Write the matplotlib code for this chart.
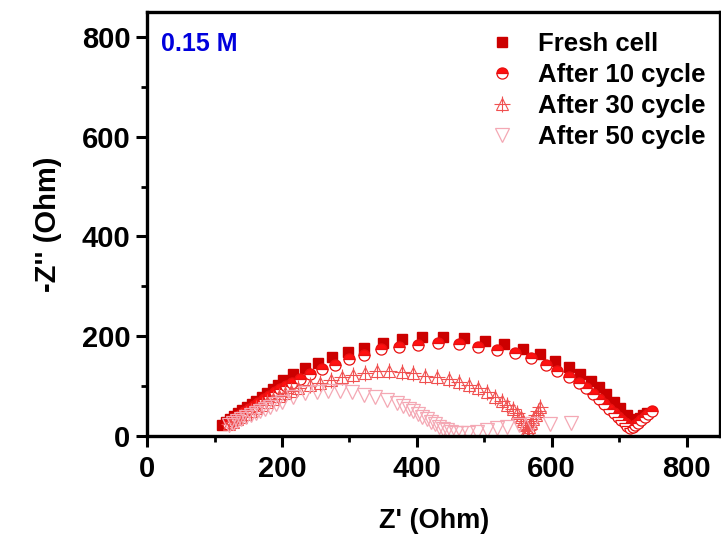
import matplotlib

matplotlib.use("Agg")
import matplotlib.pyplot as plt
from matplotlib.legend_handler import HandlerTuple
from matplotlib.ticker import MultipleLocator

plt.rcParams["font.family"] = ["Liberation Sans", "DejaVu Sans"]
plt.rcParams["font.weight"] = "bold"

# Nyquist data (Z' in Ohm, -Z'' in Ohm)
fresh_x = [111, 117, 123, 129, 135, 141, 148, 155, 162, 170, 178, 186, 194, 202,
           217, 234, 254, 274, 298, 322, 350, 378, 408, 439, 470, 501, 530, 557,
           582, 605, 625, 642, 658, 670, 681, 692, 702, 711, 716, 719, 722, 726,
           731, 736, 741]
fresh_y = [22, 28, 34, 40, 46, 52, 58, 64, 71, 78, 86, 94, 102, 112,
           124, 136, 147, 158, 168, 177, 187, 194, 198, 198, 196, 191, 184, 174,
           164, 151, 139, 124, 111, 98, 84, 69, 56, 42, 34, 26, 24, 28,
           36, 42, 47]

c10_x = [120, 126, 132, 138, 144, 151, 158, 165, 173, 181, 189, 197, 206, 215,
         227, 242, 259, 279, 300, 322, 347, 373, 402, 432, 462, 491, 519, 546,
         570, 591, 608, 626, 640, 651, 661, 670, 678, 685, 692, 698, 703, 708,
         712, 716, 720, 724, 728, 733, 738, 743, 749]
c10_y = [24, 30, 36, 42, 48, 54, 60, 67, 74, 81, 88, 95, 101, 106,
         115, 124, 134, 142, 154, 162, 174, 179, 182, 186, 184, 179, 172, 166,
         156, 142, 130, 118, 107, 96, 84, 74, 64, 55, 47, 39, 32, 26,
         20, 16, 18, 22, 27, 32, 38, 44, 50]

c30_x = [122, 128, 134, 140, 147, 154, 162, 170, 178, 187, 196, 205, 214, 224,
         241, 256, 272, 289, 306, 323, 341, 359, 378, 395, 412, 430, 447, 463,
         478, 491, 504, 516, 526, 534, 542, 549, 554, 558, 561, 563, 565, 567,
         570, 573, 576, 579, 583]
c30_y = [24, 29, 34, 39, 45, 50, 56, 62, 68, 74, 80, 86, 91, 96,
         102, 106, 112, 118, 122, 127, 130, 130, 129, 127, 120, 119, 114, 109,
         102, 96, 89, 79, 71, 62, 54, 46, 38, 30, 22, 15, 12, 18,
         26, 34, 42, 50, 58]

c50_x = [122, 128, 134, 140, 147, 154, 161, 168, 175, 182, 191, 200, 217, 234,
         252, 269, 286, 304, 321, 338, 356, 370, 380, 388, 395, 402, 408, 415,
         421, 427, 433, 439, 445, 451, 458, 466, 476, 489, 504, 519, 534, 551,
         571, 598, 628]
c50_y = [22, 26, 30, 34, 38, 42, 46, 50, 54, 59, 64, 69, 79, 86,
         89, 91, 91, 89, 82, 78, 72, 66, 60, 55, 50, 44, 39, 34,
         29, 24, 19, 15, 12, 9, 7, 6, 7, 9, 12, 16, 19, 22,
         24, 24, 26]

labels = ["Fresh cell", "After 10 cycle", "After 30 cycle", "After 50 cycle"]

fig = plt.figure(figsize=(7.21, 5.39), dpi=100)
ax = fig.add_axes([0.204, 0.191, 0.795, 0.787])

h_fresh, = ax.plot(fresh_x, fresh_y, ls="none", marker="s", ms=7.5,
                   color="#CC0000", mec="#CC0000")
h_10, = ax.plot(c10_x, c10_y, ls="none", marker="o", ms=8, color="#FF1010",
                mec="#E81010", mew=0.9, fillstyle="top", markerfacecoloralt="white")
h_30a, = ax.plot(c30_x, c30_y, ls="none", marker="^", ms=8.5, mfc="none",
                 mec="#F05050", mew=0.8)
h_30b, = ax.plot(c30_x, c30_y, ls="none", marker="+", ms=11,
                 mec="#F05050", mew=0.8)
h_50, = ax.plot(c50_x, c50_y, ls="none", marker="v", ms=9.5, mfc="none",
                mec="#F4A8B4", mew=0.9)

ax.legend([h_fresh, h_10, (h_30a, h_30b), h_50], labels,
          handler_map={tuple: HandlerTuple(ndivide=1, pad=0)},
          loc="upper right", bbox_to_anchor=(1.005, 0.996), frameon=False,
          fontsize=18.5, labelspacing=0.28, handletextpad=0.8, handlelength=1.2,
          borderaxespad=0.3)

ax.text(0.025, 0.952, "0.15 M", transform=ax.transAxes, color="#0000DD",
        fontsize=18, fontweight="bold", va="top", ha="left")

ax.set_xlim(0, 850)
ax.set_ylim(0, 850)
ax.xaxis.set_major_locator(MultipleLocator(200))
ax.xaxis.set_minor_locator(MultipleLocator(100))
ax.yaxis.set_major_locator(MultipleLocator(200))
ax.yaxis.set_minor_locator(MultipleLocator(100))
ax.tick_params(which="major", direction="out", length=8, width=2.2,
               labelsize=21, pad=4)
ax.tick_params(axis="x", which="major", pad=6)
ax.tick_params(which="minor", direction="out", length=4.5, width=2)
for spine in ax.spines.values():
    spine.set_linewidth(2.4)

ax.set_xlabel("Z' (Ohm)", fontsize=19.5, fontweight="bold", labelpad=18)
ax.set_ylabel("-Z'' (Ohm)", fontsize=21, fontweight="bold", labelpad=14)

fig.savefig("out.png", dpi=100, facecolor="white")
